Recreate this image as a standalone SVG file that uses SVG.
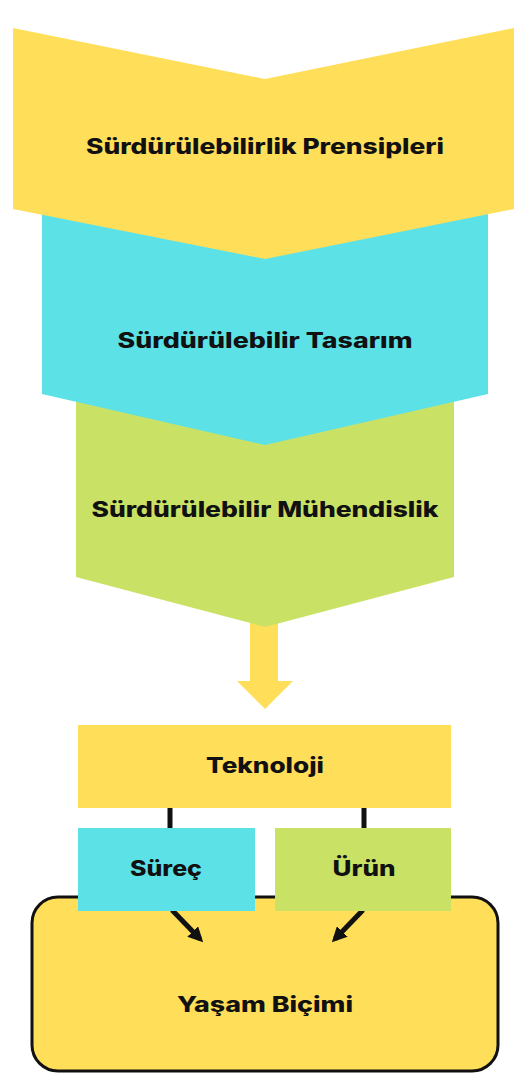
<svg xmlns="http://www.w3.org/2000/svg" width="514" height="1073" viewBox="0 0 514 1073">
<style>
.t{font-family:Inter,"Open Sans","DejaVu Sans",sans-serif;font-weight:800;font-size:21px;fill:#111;text-anchor:middle}
.y{fill:#FFDE59}.c{fill:#5CE1E6}.g{fill:#C9E265}
.ln{stroke:#111;stroke-width:5;fill:none}
</style>
<defs>
<marker id="ah" viewBox="0 0 10 10" refX="7" refY="5" markerWidth="3" markerHeight="3" orient="auto" markerUnits="strokeWidth">
<path d="M0,0 L10,5 L0,10 z" fill="#111"/>
</marker>
</defs>
<rect width="514" height="1073" fill="#fff"/>
<g id="big-arrow">
<polygon class="y" points="250,615 278,615 278,681 293,681 265,709 237,681 250,681"/>
</g>
<g id="node-muhendislik">
<polygon class="g" points="76,380 454,380 454,577 265,627 76,577"/>
<text class="t" x="265" y="517" textLength="347" lengthAdjust="spacingAndGlyphs">Sürdürülebilir Mühendislik</text>
</g>
<g id="node-tasarim">
<polygon class="c" points="42,200 488,200 488,394 265,445 42,394"/>
<text class="t" x="265" y="348" textLength="295" lengthAdjust="spacingAndGlyphs">Sürdürülebilir Tasarım</text>
</g>
<g id="node-prensipler">
<polygon class="y" points="13,28 265,79 514,28 514,209 265,259 13,209"/>
<text class="t" x="265" y="154" textLength="358" lengthAdjust="spacingAndGlyphs">Sürdürülebilirlik Prensipleri</text>
</g>
<g id="node-yasam">
<rect x="32" y="897" width="466" height="174" rx="26" ry="26" fill="#FFDE59" stroke="#111" stroke-width="3"/>
<text class="t" x="265" y="1012" textLength="176" lengthAdjust="spacingAndGlyphs">Yaşam Biçimi</text>
</g>
<g id="connectors">
<line class="ln" x1="170" y1="806" x2="170" y2="830"/>
<line class="ln" x1="364" y1="806" x2="364" y2="830"/>
<line class="ln" x1="172" y1="910" x2="200" y2="939" marker-end="url(#ah)" stroke-width="4"/>
<line class="ln" x1="363" y1="910" x2="335" y2="939" marker-end="url(#ah)" stroke-width="4"/>
</g>
<g id="node-teknoloji">
<rect class="y" x="78" y="725" width="373" height="83"/>
<text class="t" x="265" y="773" textLength="118" lengthAdjust="spacingAndGlyphs">Teknoloji</text>
</g>
<g id="node-surec">
<rect class="c" x="78" y="828" width="177" height="83"/>
<text class="t" x="166" y="876" textLength="72" lengthAdjust="spacingAndGlyphs">Süreç</text>
</g>
<g id="node-urun">
<rect class="g" x="275" y="828" width="176" height="83"/>
<text class="t" x="364" y="876" textLength="63" lengthAdjust="spacingAndGlyphs">Ürün</text>
</g>
</svg>
